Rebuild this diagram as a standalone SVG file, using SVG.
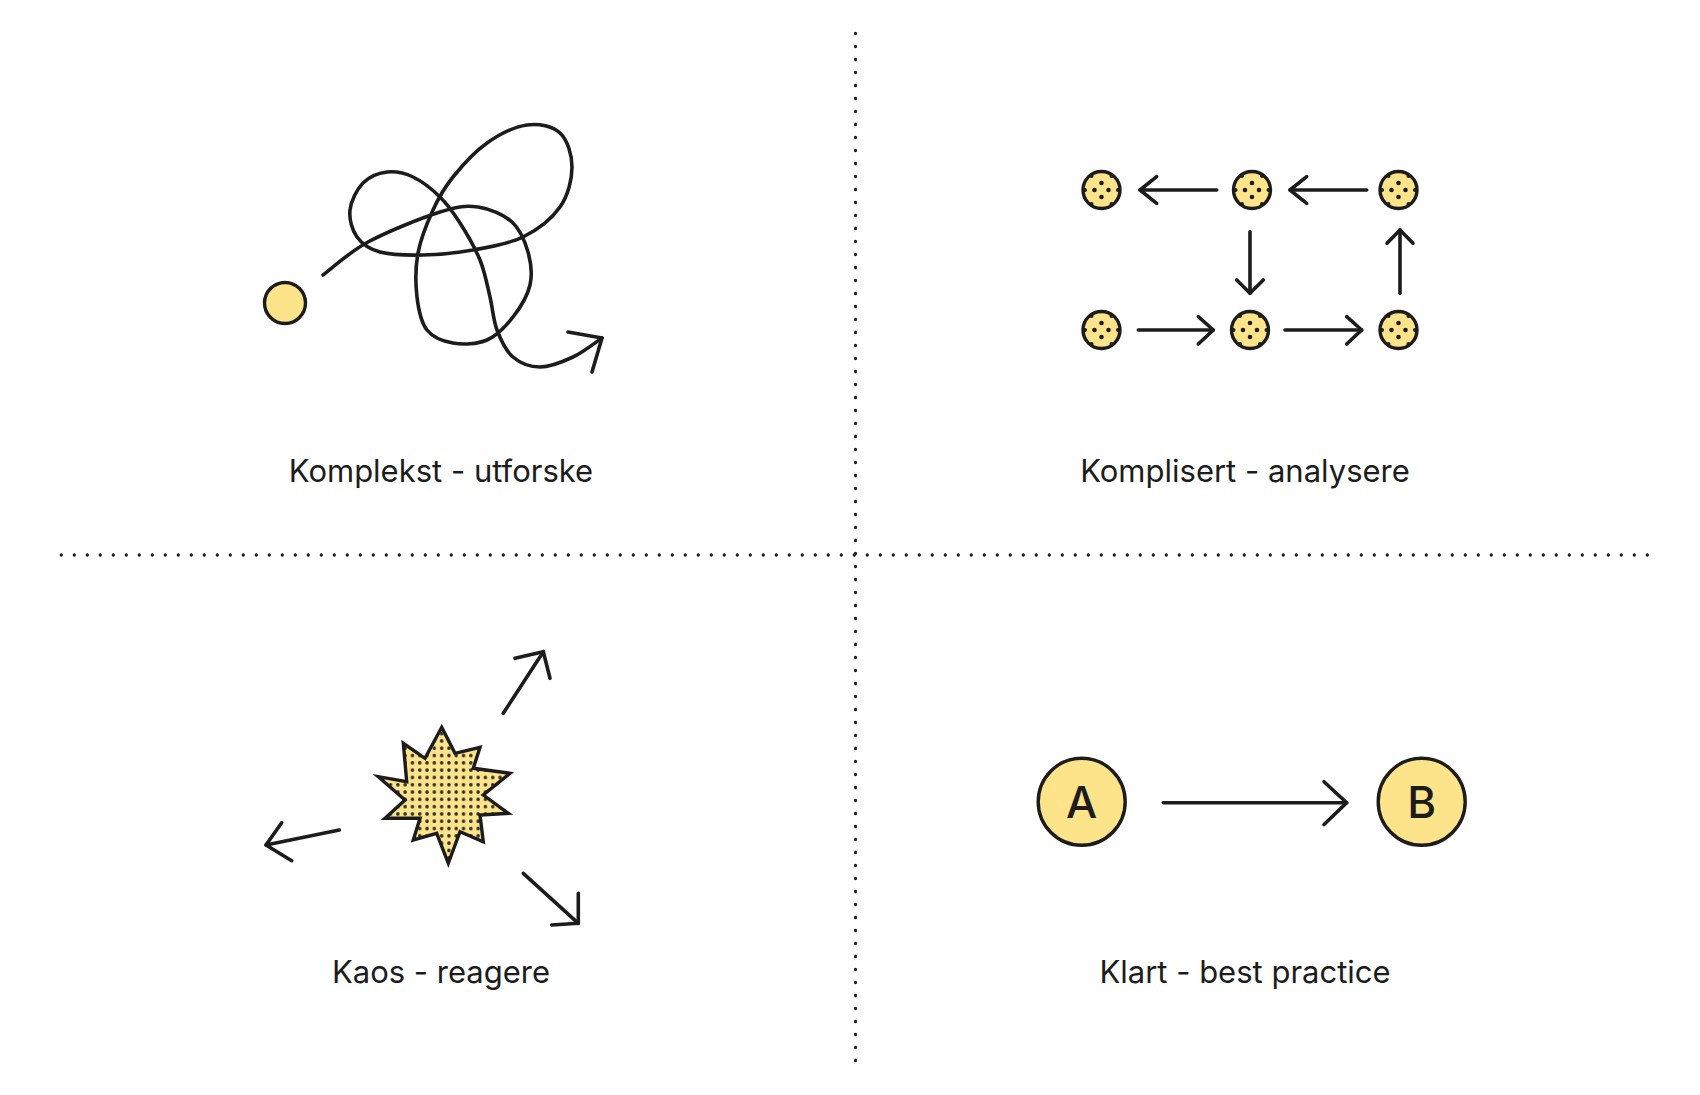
<svg xmlns="http://www.w3.org/2000/svg" xmlns:xlink="http://www.w3.org/1999/xlink" width="1700" height="1095" viewBox="0 0 1700 1095">
<style>
.ink{fill:none;stroke:#1c1c1c;stroke-width:3.6;stroke-linecap:round;stroke-linejoin:round}
.node{fill:#FDE38A;stroke:#1c1c1c;stroke-width:3.4}
.lbl{font-family:Inter,"Noto Sans","Liberation Sans",sans-serif;font-size:31px;fill:#1c1c1c;text-anchor:middle}
.letter{font-family:Inter,"Noto Sans","Liberation Sans",sans-serif;font-size:44px;font-weight:500;fill:#1c1c1c;text-anchor:middle}
.grid{fill:none;stroke:#1c1c1c;stroke-width:3.3;stroke-linecap:round;stroke-dasharray:0 13}
</style>
<defs>
<pattern id="halftone" patternUnits="userSpaceOnUse" width="7.3" height="7.3" x="0" y="0">
<circle cx="3.65" cy="3.65" r="1.75" fill="#2a2a2a"/>
</pattern>
<g id="dotnode">
<circle r="18.5" class="node"/>
<g fill="#1c1c1c">
<circle cx="0" cy="-7" r="2.3"/><circle cx="-7" cy="0" r="2.3"/><circle cx="7" cy="0" r="2.3"/><circle cx="0" cy="7" r="2.3"/>
<circle cx="-10" cy="-14" r="2"/><circle cx="10" cy="-14" r="2"/><circle cx="-16.5" cy="0" r="2"/><circle cx="16.5" cy="0" r="2"/><circle cx="-10" cy="14" r="2"/><circle cx="10" cy="14" r="2"/>
</g>
</g>
</defs>
<rect width="1700" height="1095" fill="#ffffff"/>

<g id="grid">
<line class="grid" x1="855.5" y1="33.5" x2="855.5" y2="1061"/>
<line class="grid" x1="61.3" y1="555" x2="1651" y2="555"/>
</g>

<g id="komplekst">
<circle cx="285" cy="303" r="20.5" class="node"/>
<path class="ink" d="M323,275 C330.5,269.5 348.5,252.5 368,242 C387.5,231.5 421.7,217.8 440,212 C458.3,206.2 466,205.3 478,207 C490,208.7 503.7,214.5 512,222 C520.3,229.5 525,241.5 528,252 C531,262.5 532.5,274.2 530,285 C527.5,295.8 520.2,307.8 513,317 C505.8,326.2 497,335.7 487,340 C477,344.3 463,344.7 453,343 C443,341.3 433,337.7 427,330 C421,322.3 418.5,309.8 417,297 C415.5,284.2 415.3,267.5 418,253 C420.7,238.5 427.2,222.7 433,210 C438.8,197.3 444,188.2 453,177 C462,165.8 474.7,151.7 487,143 C499.3,134.3 514.8,126.7 527,125 C539.2,123.3 552.5,126 560,133 C567.5,140 572,154.7 572,167 C572,179.3 568.2,195.3 560,207 C551.8,218.7 537.5,229.8 523,237 C508.5,244.2 489.7,247 473,250 C456.3,253 438.5,254.7 423,255 C407.5,255.3 391,255 380,252 C369,249 362,244 357,237 C352,230 349,219 350,210 C351,201 356.8,189.3 363,183 C369.2,176.7 378.7,173 387,172 C395.3,171 404.2,172.8 413,177 C421.8,181.2 432.2,189.3 440,197 C447.8,204.7 453.3,212.5 460,223 C466.7,233.5 475,247.7 480,260 C485,272.3 487.2,285.3 490,297 C492.8,308.7 493.2,320 497,330 C500.8,340 505.8,350.8 513,357 C520.2,363.2 530,367 540,367 C550,367 562.7,361.8 573,357 C583.3,352.2 597.2,341.2 602,338"/>
<polyline class="ink" points="568,332 602,338 592,372"/>
<text class="lbl" x="441" y="482">Komplekst - utforske</text>
</g>

<g id="komplisert">
<use xlink:href="#dotnode" x="1101.5" y="190"/>
<use xlink:href="#dotnode" x="1252" y="190"/>
<use xlink:href="#dotnode" x="1398.5" y="190"/>
<use xlink:href="#dotnode" x="1101.5" y="330"/>
<use xlink:href="#dotnode" x="1250" y="330"/>
<use xlink:href="#dotnode" x="1398.5" y="330"/>
<text class="lbl" x="1245" y="482">Komplisert - analysere</text>
</g>

<g id="komplisert-arrows">
<line class="ink" x1="1216.7" y1="190" x2="1140" y2="190"/>
<polyline class="ink" points="1156.7,176.7 1140,190 1156.7,203.3"/>
<line class="ink" x1="1366.7" y1="190" x2="1290" y2="190"/>
<polyline class="ink" points="1306.7,176.7 1290,190 1306.7,203.3"/>
<line class="ink" x1="1250" y1="231.7" x2="1250" y2="293.3"/>
<polyline class="ink" points="1236.7,280 1250,293.3 1263.3,280"/>
<line class="ink" x1="1400" y1="293.3" x2="1400" y2="230"/>
<polyline class="ink" points="1387,243.3 1400,230 1413,243.3"/>
<line class="ink" x1="1138.3" y1="330" x2="1213.3" y2="330"/>
<polyline class="ink" points="1198.3,316.7 1213.3,330 1198.3,344"/>
<line class="ink" x1="1285" y1="330" x2="1361.7" y2="330"/>
<polyline class="ink" points="1346.7,316.7 1361.7,330 1346.7,344"/>
</g>

<g id="kaos">
<polygon points="441.7,727.3 455,753.3 480,747.3 473.3,768.3 510,773.3 483.3,795 508.3,813.3 480,815 483.3,841.7 460,831.7 448.3,863.3 436.7,833.3 413.3,840 420,818.3 385,818.3 405,800 378.3,776.7 406.7,781.7 403.3,743.3 425,758.3" fill="#FDE38A" stroke="none"/>
<polygon points="441.7,727.3 455,753.3 480,747.3 473.3,768.3 510,773.3 483.3,795 508.3,813.3 480,815 483.3,841.7 460,831.7 448.3,863.3 436.7,833.3 413.3,840 420,818.3 385,818.3 405,800 378.3,776.7 406.7,781.7 403.3,743.3 425,758.3" fill="url(#halftone)" stroke="#1c1c1c" stroke-width="3.4" stroke-linejoin="miter"/>
<text class="lbl" x="441" y="983">Kaos - reagere</text>
</g>

<g id="kaos-arrows">
<line class="ink" x1="503.3" y1="713.3" x2="543.3" y2="651.7"/>
<polyline class="ink" points="515,658.3 543.3,651.7 550,678.3"/>
<line class="ink" x1="339.3" y1="830" x2="266" y2="845"/>
<polyline class="ink" points="281.7,822.7 266,845 291.7,860.7"/>
<line class="ink" x1="523.3" y1="873.3" x2="578.3" y2="923.3"/>
<polyline class="ink" points="578.3,893.3 578.3,923.3 551.7,925"/>
</g>

<g id="node-a">
<circle cx="1081.7" cy="801.7" r="43.5" class="node"/>
<text class="letter" x="1081.7" y="817.5">A</text>
</g>
<g id="node-b">
<circle cx="1421.7" cy="801.7" r="43.5" class="node"/>
<text class="letter" x="1421.7" y="817.5">B</text>
</g>
<g id="ab-connector">
<line class="ink" x1="1163.3" y1="802.7" x2="1346.7" y2="802.7"/>
<polyline class="ink" points="1324,781.7 1346.7,802.7 1324,824.5"/>
</g>
<g id="klart">
<text class="lbl" x="1245" y="983">Klart - best practice</text>
</g>
</svg>
